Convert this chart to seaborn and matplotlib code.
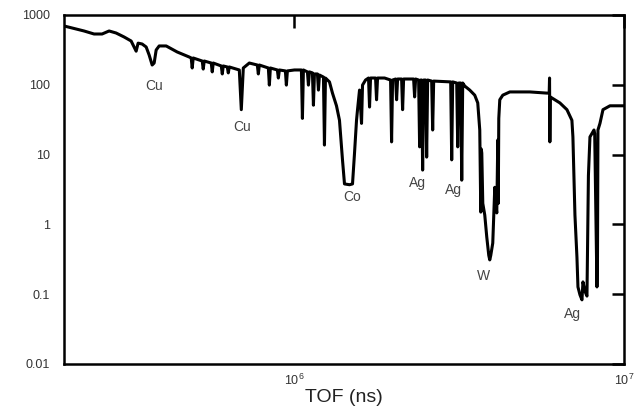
import matplotlib
matplotlib.use("Agg")
import matplotlib.pyplot as plt
import pandas as pd
import seaborn as sns
from matplotlib.ticker import NullLocator

# Neutron transmission spectrum versus time of flight
tof_ns = [
    2.00e5, 2.115e5, 2.30e5, 2.467e5, 2.609e5, 2.74e5, 2.877e5, 3.043e5,
    3.196e5, 3.31e5, 3.356e5, 3.451e5, 3.55e5, 3.625e5, 3.702e5, 3.754e5,
    3.807e5, 3.888e5, 4.083e5, 4.41e5, 4.796e5,
    4.863e5, 4.897e5, 4.932e5,
    5.252e5, 5.289e5, 5.327e5,
    5.594e5, 5.633e5, 5.673e5,
    6.000e5, 6.042e5, 6.084e5,
    6.257e5, 6.301e5, 6.345e5,
    6.805e5, 6.901e5, 6.998e5,
    7.298e5,
    7.718e5, 7.773e5, 7.827e5,
    8.336e5, 8.395e5, 8.454e5,
    8.878e5, 8.940e5, 9.003e5,
    9.389e5, 9.455e5, 9.522e5,
    1.000e6,
    1.0502e6, 1.0576e6, 1.0650e6,
    1.0953e6, 1.1030e6, 1.1107e6,
    1.1343e6, 1.1422e6, 1.1503e6,
    1.1747e6, 1.1829e6, 1.1912e6,
    1.2250e6, 1.2336e6, 1.2423e6,
    1.2776e6,
    1.3047e6, 1.3418e6, 1.3702e6, 1.3993e6, 1.4190e6, 1.4696e6, 1.5008e6,
    1.5220e6, 1.5434e6, 1.5543e6, 1.5762e6, 1.5984e6, 1.6096e6,
    1.6438e6, 1.6786e6, 1.6904e6, 1.7023e6,
    1.7629e6, 1.7753e6, 1.7877e6,
    1.8776e6, 1.9581e6, 1.9718e6, 1.9857e6,
    2.0279e6, 2.0421e6, 2.0565e6,
    2.1148e6, 2.1297e6, 2.1446e6,
    2.2999e6, 2.3161e6, 2.3324e6,
    2.3819e6, 2.3986e6, 2.4155e6,
    2.4325e6, 2.4496e6, 2.4668e6,
    2.5016e6, 2.5193e6, 2.5370e6,
    2.6090e6, 2.6274e6, 2.6459e6,
    2.980e6, 3.001e6, 3.022e6,
    3.108e6, 3.130e6, 3.152e6,
    3.196e6, 3.219e6, 3.241e6,
    3.287e6, 3.404e6, 3.525e6, 3.600e6, 3.651e6,
    3.677e6, 3.690e6, 3.703e6, 3.729e6, 3.781e6, 3.834e6, 3.888e6,
    3.915e6, 3.943e6, 3.998e6, 4.026e6, 4.055e6, 4.083e6, 4.112e6,
    4.141e6, 4.155e6, 4.170e6, 4.199e6,
    4.288e6, 4.504e6, 5.180e6, 5.834e6,
    5.930e6, 5.945e6, 5.958e6, 5.975e6,
    6.170e6, 6.390e6, 6.713e6, 6.950e6,
    6.999e6, 7.099e6, 7.199e6, 7.250e6, 7.352e6, 7.456e6, 7.508e6,
    7.614e6, 7.721e6, 7.800e6, 7.884e6,
    8.108e6, 8.150e6, 8.250e6, 8.279e6, 8.310e6, 8.337e6,
    8.455e6, 8.635e6, 9.067e6, 1.000e7,
]
transmission = [
    696, 651, 590, 534, 534, 590, 552, 484,
    424, 303, 395, 384, 348, 267, 192, 205,
    315, 360, 360, 295, 250,
    242, 174, 242,
    219, 168, 219,
    205, 153, 205,
    186, 143, 186,
    180, 148, 180,
    163, 44, 174,
    205,
    192, 143, 192,
    174, 99, 174,
    163, 125, 163,
    158, 99, 158,
    163,
    163, 33, 163,
    153, 99, 153,
    148, 51, 143,
    143, 84, 138,
    129, 13.7, 125,
    110,
    76, 50, 31, 8.4, 3.8, 3.7, 3.8,
    10.5, 31, 44, 84, 28, 99,
    117, 125, 48, 125,
    125, 61, 125,
    125, 117, 15.2, 117,
    121, 61, 121,
    121, 44, 121,
    121, 67, 121,
    117, 12.9, 117,
    117, 6.0, 117,
    117, 9.2, 117,
    113, 22.5, 113,
    110, 8.4, 110,
    106, 12.9, 106,
    106, 4.3, 106,
    96, 84, 71, 55, 22.5,
    1.5, 12, 10.5, 2.0, 1.36, 0.66, 0.36,
    0.31, 0.36, 0.54, 1.36, 3.4, 2.0, 1.46,
    16.2, 2.0, 33, 61,
    71, 79, 79, 76,
    76, 125, 15.2, 67,
    61, 55, 44, 31,
    17.9, 1.36, 0.34, 0.127, 0.098, 0.083, 0.15,
    0.11, 0.094, 5.0, 17.9,
    22.5, 20, 0.34, 0.127, 0.34, 22.5,
    28, 44, 50, 50,
]

# Element labels for the resonance dips
label_text = ["Cu", "Cu", "Co", "Ag", "Ag", "W", "Ag"]
label_tof = [3.75e5, 6.95e5, 1.50e6, 2.365e6, 3.043e6, 3.754e6, 7.0e6]
label_t = [96, 24.9, 2.47, 3.9, 3.1, 0.18, 0.052]

y_ticks = [0.01, 0.1, 1, 10, 100, 1000]
y_tick_labels = ["0.01", "0.1", "1", "10", "100", "1000"]
x_ticks = [1e6, 1e7]
x_tick_labels = [r"$10^6$", r"$10^7$"]

sns.set_theme(style="white")
plt.rcParams["font.family"] = ["Liberation Sans", "DejaVu Sans"]
plt.rcParams["mathtext.fontset"] = "custom"
plt.rcParams["mathtext.rm"] = "Liberation Sans"
plt.rcParams["mathtext.it"] = "Liberation Sans:italic"

fig = plt.figure(figsize=(6.39, 4.15), dpi=100)
ax = fig.add_axes([0.1002, 0.1229, 0.8763, 0.8410])

df = pd.DataFrame({"TOF": tof_ns, "T": transmission})
sns.lineplot(data=df, x="TOF", y="T", ax=ax, color="black",
             linewidth=2.2, sort=False, estimator=None)

ax.set_xscale("log")
ax.set_yscale("log")
ax.set_xlim(2e5, 1e7)
ax.set_ylim(0.01, 1000)
ax.set_yticks(y_ticks)
ax.set_yticklabels(y_tick_labels)
ax.set_xticks(x_ticks)
ax.set_xticklabels(x_tick_labels)
ax.xaxis.set_minor_locator(NullLocator())
ax.yaxis.set_minor_locator(NullLocator())

ax.tick_params(axis="both", which="major", direction="in", length=9,
               width=1.8, color="black", top=True, right=True,
               labelsize=9, labelcolor="#333333")
ax.tick_params(axis="y", pad=10)
ax.tick_params(axis="x", pad=6)

for spine in ax.spines.values():
    spine.set_linewidth(1.8)
    spine.set_color("black")

for txt, xv, yv in zip(label_text, label_tof, label_t):
    ax.text(xv, yv, txt, ha="center", va="center", fontsize=10,
            color="#444444")

ax.set_xlabel("TOF (ns)", fontsize=14, labelpad=1, color="#222222")
ax.set_ylabel("")

fig.savefig("out.png", dpi=100)
